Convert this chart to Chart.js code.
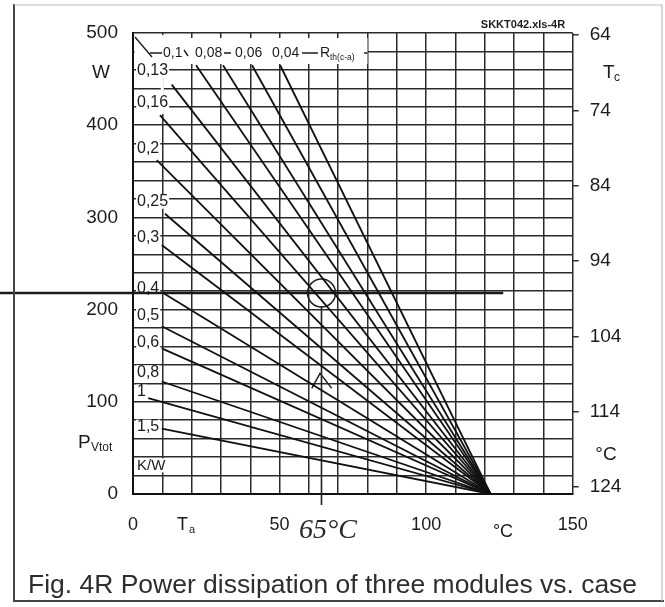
<!DOCTYPE html>
<html><head><meta charset="utf-8">
<script src="https://cdn.jsdelivr.net/npm/chart.js@4/dist/chart.umd.min.js"></script>
<style>html,body{margin:0;padding:0;background:#fff}#wrap{width:665px;height:607px;position:relative}</style>
</head><body><div id="wrap"><canvas id="c" width="665" height="607"></canvas></div>
<script>
// ---- data ----
const rthLabels = ['0,04','0,06','0,08','0,1','0,13','0,16','0,2','0,25','0,3','0,4','0,5','0,6','0,8','1','1,5'];
const startTa = [50.2, 40.6, 30.7, 21.5, 13.2, 9.2, 8.1, 10.9, 9.8, 10.3, 9.8, 9.8, 9.8, 5.2, 9.8];
const startP  = [465, 465, 465, 465, 444, 411, 362, 304, 270, 218, 182, 158, 122, 104, 71];
const endTa = 122;
const endP = 0;
const powerTicks = [0, 100, 200, 300, 400, 500];
const taTicks = [0, 50, 100, 150];
const tcTicks = [64, 74, 84, 94, 104, 114, 124];
const tcRange = [63.73, 124.93];   // Tc at P = 500 W (top) and at P = 0 (bottom)
// hand-drawn annotation (Ta, P)
const markP = 218;
const markLineTa = [-45.4, 126.3];
const markTa = 64.3;
const markVLineP = [204, -12];
const arrowTa = [61.0, 63.8, 67.8];
const arrowP = [114.6, 130.9, 114.6];
const stripLabels = ['0,13','0,16','0,2','0,25','0,3','0,4','0,5','0,6','0,8','1','1,5','K/W'];
const stripLabelP = [459, 424, 375, 317, 278, 223, 194, 164, 132, 111, 73, 31];

const FONT = "'Liberation Sans', Arial, Helvetica, sans-serif";
Chart.defaults.font.family = FONT;
const INK = '#1c1c1c';

const datasets = rthLabels.map((r, i) => ({
  label: 'Rth(c-a) ' + r,
  data: [{x: startTa[i], y: startP[i]}, {x: endTa, y: endP}],
  borderColor: '#111', borderWidth: 1.8, pointRadius: 0, showLine: true, fill: false
}));
datasets.push({label: 'mark-h', data: [{x: markLineTa[0], y: markP}, {x: markLineTa[1], y: markP}],
  borderColor: '#1a1a1a', borderWidth: 2.4, pointRadius: 0, showLine: true, clip: false});
datasets.push({label: 'mark-v', data: [{x: markTa, y: markVLineP[0]}, {x: markTa, y: markVLineP[1]}],
  borderColor: '#222', borderWidth: 1.6, pointRadius: 0, showLine: true, clip: false});
datasets.push({label: 'arrow', data: arrowTa.map((t, i) => ({x: t, y: arrowP[i]})),
  borderColor: '#222', borderWidth: 1.5, pointRadius: 0, showLine: true, clip: false});
datasets.push({label: 'circle', data: [{x: markTa, y: markP}], showLine: false,
  pointRadius: 14, pointStyle: 'circle', pointBorderColor: '#222', pointBackgroundColor: 'rgba(0,0,0,0)', pointBorderWidth: 1.5, clip: false});

function txt(ctx, s, x, y, font, align, base, color) {
  ctx.font = font; ctx.textAlign = align || 'left'; ctx.textBaseline = base || 'middle';
  ctx.fillStyle = color || INK; ctx.fillText(s, x, y);
}
function seg(ctx, x1, y1, x2, y2, w) {
  ctx.beginPath(); ctx.moveTo(x1, y1); ctx.lineTo(x2, y2);
  ctx.lineWidth = w || 1.5; ctx.strokeStyle = INK; ctx.stroke();
}

const labelsPlugin = {
  id: 'labelsPlugin',
  beforeDatasetsDraw(chart) {
    const ctx = chart.ctx, a = chart.chartArea, sx = chart.scales.x, sy = chart.scales.y;
    ctx.save();
    // top strip: clear grid, keep small ticks at top
    ctx.fillStyle = '#fff';
    ctx.fillRect(a.left + 1.5, a.top + 5, 366 - a.left, 64 - a.top - 5);
    // left strip clear around Ta=10 line near top
    ctx.fillRect(sx.getPixelForValue(10) - 1.5, a.top + 2, 3, 112 - a.top);
    // top-left leader
    seg(ctx, a.left + 2, a.top + 4, a.left + 19, a.top + 24, 1.4);
    const yr = a.top + 20;
    seg(ctx, 150, yr, 162, yr, 1.5);
    const f14 = '14px ' + FONT;
    txt(ctx, '0,1', 163, yr, f14);
    seg(ctx, 184, yr - 3, 188, yr + 3, 1.4);
    txt(ctx, '0,08', 195, yr, f14);
    seg(ctx, 224, yr, 231, yr, 1.5);
    txt(ctx, '0,06', 235, yr, f14);
    txt(ctx, '0,04', 272, yr, f14);
    seg(ctx, 302, yr, 318, yr, 1.5);
    txt(ctx, 'R', 320, yr, f14);
    txt(ctx, 'th(c-a)', 330, yr + 5, '8.5px ' + FONT);
    seg(ctx, 364, yr, sx.getPixelForValue(80), yr, 1.5);
    // left-strip labels with paper background
    const f16 = '16px ' + FONT;
    ctx.font = f16;
    stripLabels.forEach((s, i) => {
      const y = sy.getPixelForValue(stripLabelP[i]);
      const w = ctx.measureText(s).width;
      ctx.fillStyle = '#fff';
      ctx.fillRect(136, y - 7, w + 2, 14);
      txt(ctx, s, 137, y, s === 'K/W' ? '15px ' + FONT : f16);
    });
    ctx.restore();
  },
  afterDraw(chart) {
    const ctx = chart.ctx;
    ctx.save();
    const f19 = '19px ' + FONT;
    txt(ctx, 'SKKT042.xls-4R', 523, 25, 'bold 11px ' + FONT, 'center');
    txt(ctx, 'W', 101, 73, f19, 'center');
    txt(ctx, 'P', 78, 443, f19, 'left');
    txt(ctx, 'Vtot', 91, 448, '12px ' + FONT, 'left');
    txt(ctx, 'T', 177, 525, '18px ' + FONT, 'left');
    txt(ctx, 'a', 189, 530, '11px ' + FONT, 'left');
    txt(ctx, '\u00B0C', 503, 532, '18px ' + FONT, 'center');
    txt(ctx, 'T', 603, 73, f19, 'left');
    txt(ctx, 'c', 614, 78, '12px ' + FONT, 'left');
    txt(ctx, '\u00B0C', 606, 455, f19, 'center');
    // handwriting
    txt(ctx, '65\u00B0C', 299, 538, 'italic 28px "Liberation Serif", "DejaVu Serif", serif', 'left', 'alphabetic', '#2a2a2a');
    // caption
    const cap = 'Fig. 4R Power dissipation of three modules vs. case';
    ctx.font = '24px ' + FONT;
    const w = ctx.measureText(cap).width;
    const size = 24 * 609 / w;
    txt(ctx, cap, 28, 593, size.toFixed(2) + 'px ' + FONT, 'left', 'alphabetic', '#2e2e2e');
    // page frame
    ctx.strokeStyle = '#444'; ctx.lineWidth = 2;
    ctx.beginPath(); ctx.moveTo(14, 4); ctx.lineTo(14, 601); ctx.lineTo(664, 601); ctx.stroke();
    ctx.strokeStyle = '#bbb'; ctx.lineWidth = 1.2;
    ctx.beginPath(); ctx.moveTo(14, 5); ctx.lineTo(662, 5); ctx.lineTo(662, 601); ctx.stroke();
    ctx.restore();
  }
};

new Chart(document.getElementById('c'), {
  type: 'scatter',
  data: {datasets},
  options: {
    responsive: false, animation: false, events: [],
    layout: {padding: {top: 33, left: 0, right: 0, bottom: 0}},
    plugins: {legend: {display: false}, tooltip: {enabled: false}},
    scales: {
      x: {
        type: 'linear', min: 0, max: 150, position: 'bottom',
        afterBuildTicks: s => { s.ticks = Array.from({length: 16}, (_, i) => ({value: i * 10})); },
        ticks: {callback: v => taTicks.includes(v) ? String(v) : '', autoSkip: false, maxRotation: 0,
                font: {size: 18}, color: INK, padding: 20},
        grid: {color: '#2b2b2b', lineWidth: 1.5, drawTicks: false},
        border: {display: true, color: '#111', width: 2},
        afterFit: s => { s.height = 113; }
      },
      y: {
        type: 'linear', min: 0, max: 500, position: 'left',
        afterBuildTicks: s => { s.ticks = Array.from({length: 26}, (_, i) => ({value: i * 20})); },
        ticks: {callback: v => powerTicks.includes(v) ? String(v) : '', autoSkip: false,
                font: {size: 19}, color: INK, padding: 15},
        grid: {color: '#2b2b2b', lineWidth: 1.5, drawTicks: false},
        border: {display: true, color: '#111', width: 2},
        afterFit: s => { s.width = 133; }
      },
      y2: {
        type: 'linear', min: tcRange[0], max: tcRange[1], reverse: true, position: 'right',
        afterBuildTicks: s => { s.ticks = tcTicks.map(v => ({value: v})); },
        ticks: {autoSkip: false, font: {size: 19}, color: INK, padding: 11},
        grid: {drawOnChartArea: false, drawTicks: true, tickLength: 6, color: '#333', lineWidth: 1.5},
        border: {display: false},
        afterFit: s => { s.width = 92.3; }
      }
    }
  },
  plugins: [labelsPlugin]
});
</script>
</body></html>
